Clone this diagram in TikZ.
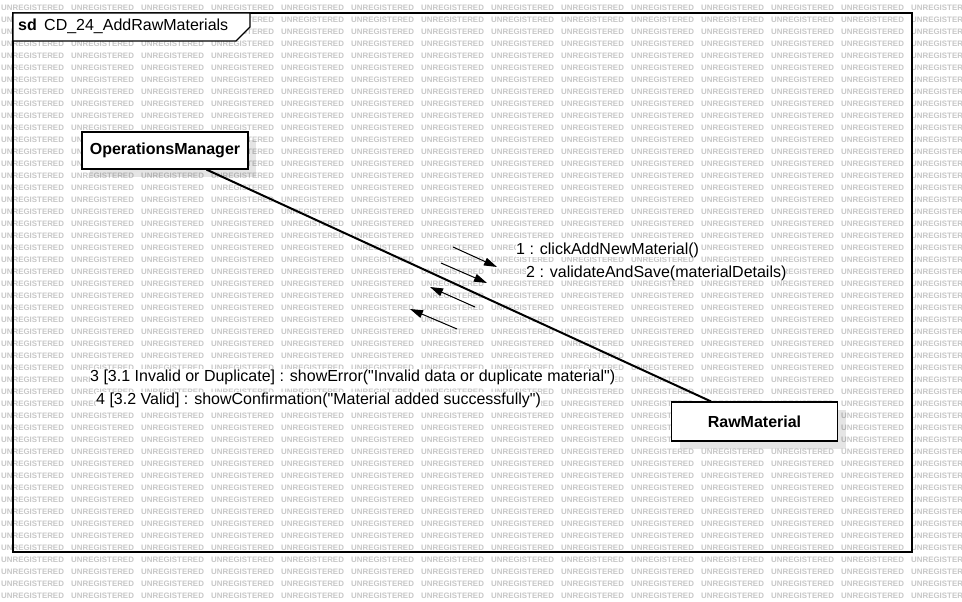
\documentclass[tikz,border=0pt]{standalone}
\usepackage{fontspec}
\setmainfont{Liberation Sans}[Ligatures=TeXOff]
\usetikzlibrary{arrows.meta,shadows}
\begin{document}
\begin{tikzpicture}[x=1pt,y=-1pt,
  wm/.style={anchor=west, inner sep=0pt, text=black!22, font=\fontsize{7.9}{8}\selectfont\bfseries},
  obj/.style={draw, line width=1.2pt, fill=white, minimum width=166pt, minimum height=37pt,
    inner sep=0pt, font=\fontsize{16}{19}\selectfont\bfseries,
    drop shadow={shadow xshift=8pt, shadow yshift=-8pt, opacity=0.1, fill=black}},
  msglabel/.style={anchor=base west, inner sep=0pt, fill=white, font=\fontsize{16}{19}\selectfont},
  titletext/.style={anchor=base west, inner sep=0pt, font=\fontsize{16}{19}\selectfont},
  msg/.style={line width=1pt, -{Triangle[length=13pt,width=8pt]}},
  link/.style={line width=2pt},
  frameline/.style={line width=1.2pt}]
% background / bounding box
\fill[white] (0,0) rectangle (962,602);
\useasboundingbox (0,0) rectangle (962,602);
% watermark
\begin{scope}
\clip (0,0) rectangle (962,602);
\foreach \r in {0,...,49}{
  \foreach \c in {0,...,13}{
    \node[wm] (wm-\r-\c) at ({\c*70+1},{7.5+\r*12}) {UNREGISTERED};
  }
}
\end{scope}
% frame
\draw[frameline] (13,13) rectangle (912,552);
\draw[frameline, fill=white] (13,13) -- (250,13) -- (250,27) -- (236,41) -- (13,41) -- cycle;
\node[titletext] (sd) at (18,31) {\bfseries sd};
\node[titletext] (title) at (44,31) {CD\_24\_AddRawMaterials};
% objects
\node[obj] (om) at (165,150.5) {OperationsManager};
\node[obj, minimum height=39pt] (rm) at (754.5,421.5) {RawMaterial};
\draw[link] (om) -- (rm);
% messages
\coordinate (m1s) at (453,247); \coordinate (m1e) at (497,267);
\coordinate (m2s) at (441,263); \coordinate (m2e) at (487,283);
\coordinate (m3s) at (475,307); \coordinate (m3e) at (430,287);
\coordinate (m4s) at (457,329); \coordinate (m4e) at (410,309);
\draw[msg] (m1s) -- (m1e);
\draw[msg] (m2s) -- (m2e);
\draw[msg] (m3s) -- (m3e);
\draw[msg] (m4s) -- (m4e);
\node[msglabel] (l1) at (516,254) {1 : clickAddNewMaterial()};
\node[msglabel] (l2) at (526,277) {2 : validateAndSave(materialDetails)};
\node[msglabel] (l3) at (90,381) {3 [3.1 Invalid or Duplicate] : showError("Invalid data or duplicate material")};
\node[msglabel] (l4) at (96,404) {4 [3.2 Valid] : showConfirmation("Material added successfully")};
\end{tikzpicture}
\end{document}
